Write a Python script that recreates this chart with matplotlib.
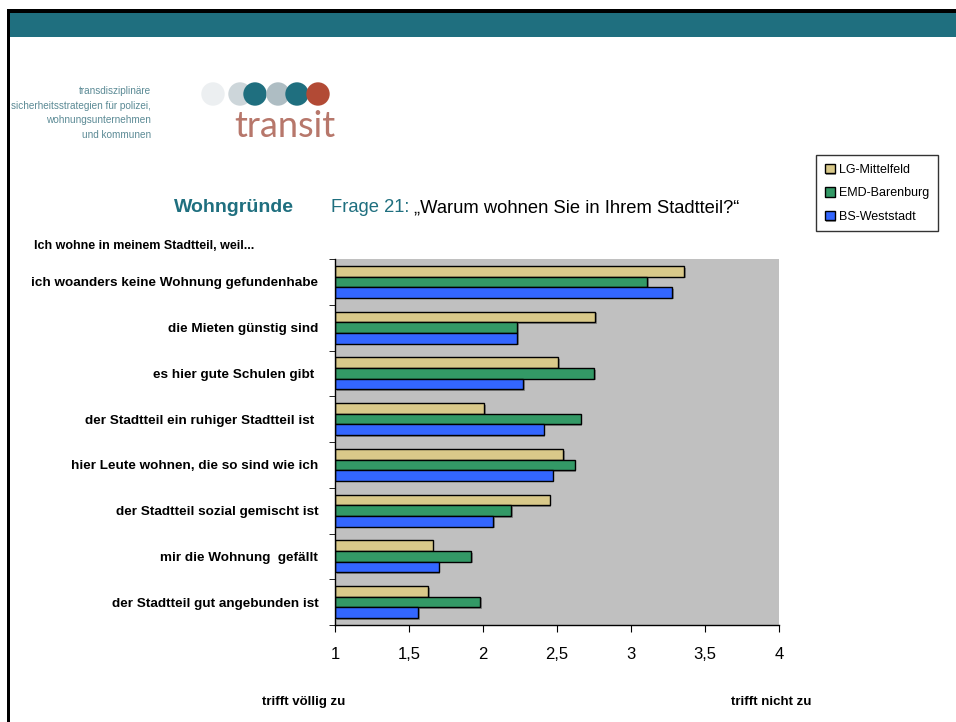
import matplotlib.pyplot as plt
import matplotlib.patheffects as pe
import numpy as np
from matplotlib.patches import Rectangle, Circle

# survey answers (1 = trifft völlig zu, 4 = trifft nicht zu)
categories = [
    'ich woanders keine Wohnung gefundenhabe',
    'die Mieten günstig sind',
    'es hier gute Schulen gibt ',
    'der Stadtteil ein ruhiger Stadtteil ist ',
    'hier Leute wohnen, die so sind wie ich',
    'der Stadtteil sozial gemischt ist',
    'mir die Wohnung  gefällt',
    'der Stadtteil gut angebunden ist',
]
lg_mittelfeld = [3.36, 2.76, 2.51, 2.01, 2.54, 2.45, 1.66, 1.63]
emd_barenburg = [3.11, 2.23, 2.75, 2.66, 2.62, 2.19, 1.92, 1.98]
bs_weststadt = [3.28, 2.23, 2.27, 2.41, 2.47, 2.07, 1.70, 1.56]
series_names = ['LG-Mittelfeld', 'EMD-Barenburg', 'BS-Weststadt']
xticks = [1, 1.5, 2, 2.5, 3, 3.5, 4]
xtick_labels = ['1', '1,5', '2', '2,5', '3', '3,5', '4']

colors = ['#d9c98a', '#339966', '#3366ff']
teal = '#1f6f7f'
sans = ['Liberation Sans', 'DejaVu Sans']

W, H = 956, 722
fig = plt.figure(figsize=(W / 100, H / 100), dpi=100)

# slide background in pixel coordinates
bg = fig.add_axes([0, 0, 1, 1])
bg.set_xlim(0, W)
bg.set_ylim(H, 0)
bg.axis('off')
bg.add_patch(Rectangle((7, 9), W, 4, color='black', lw=0))
bg.add_patch(Rectangle((7, 9), 3, H, color='black', lw=0))
bg.add_patch(Rectangle((10, 13), W, 24, color=teal, lw=0))

# logo
logo_lines = ['transdisziplinäre', 'sicherheitsstrategien für polizei,',
              'wohnungsunternehmen', 'und kommunen']
for i, line in enumerate(logo_lines):
    bg.text(151, 91 + i * 14.7, line, ha='right', va='center', fontsize=7.2,
            color='#5b8a95', family=sans)

circles = [(213, '#eceff1'), (240, '#cdd6da'), (255, teal), (278, '#aebdc3'),
           (297, teal), (318, '#b24a35')]
for cx, c in circles:
    bg.add_patch(Circle((cx, 94), 11.7, color=c, lw=0))
bg.text(285, 137, 'transit', ha='center', va='baseline', fontsize=26,
        color='#b7776b', family=['Lato', 'DejaVu Sans'])

# titles
bg.text(174, 208, 'Wohngründe', ha='left', va='center', fontsize=14,
        color=teal, weight='bold', family=sans)
t1 = bg.text(331, 208, 'Frage 21: ', ha='left', va='center', fontsize=13.2,
             color=teal, family=sans)
fig.canvas.draw()
bb = t1.get_window_extent()
x_after = bg.transData.inverted().transform((bb.x1, 0))[0]
bg.text(x_after, 208, '„Warum wohnen Sie in Ihrem Stadtteil?“', ha='left',
        va='center', fontsize=13.2, color='black', family=sans)

bg.text(34, 246, 'Ich wohne in meinem Stadtteil, weil...', ha='left',
        va='center', fontsize=9, weight='bold', family=sans)
bg.text(262, 702, 'trifft völlig zu', ha='left', va='center', fontsize=9.5,
        weight='bold', family=sans)
bg.text(731, 702, 'trifft nicht zu', ha='left', va='center', fontsize=9.5,
        weight='bold', family=sans)

# bar chart
ax = fig.add_axes([335 / W, (H - 625) / H, 444 / W, 366 / H])
ax.set_facecolor('#c0c0c0')
y = np.arange(len(categories))
h = 0.232
shadow = [pe.SimplePatchShadow(offset=(1.2, -1.2), shadow_rgbFace='#707070',
                               alpha=0.7), pe.Normal()]
for k, vals in enumerate([lg_mittelfeld, emd_barenburg, bs_weststadt]):
    vals = np.array(vals)
    bars = ax.barh(y + (k - 1) * h, vals - 1, left=1, height=h, color=colors[k],
                   edgecolor='black', linewidth=1, label=series_names[k])
    for b in bars:
        b.set_path_effects(shadow)

ax.set_xlim(1, 4)
ax.set_ylim(len(categories) - 0.5, -0.5)
ax.set_xticks(xticks)
ax.set_xticklabels(xtick_labels, fontsize=12, family=sans)
ax.set_yticks(y)
ax.set_yticklabels(categories, fontsize=9.7, weight='bold', family=sans)
ax.set_yticks(np.arange(-0.5, len(categories)), minor=True)
ax.tick_params(axis='y', which='major', length=0, pad=12)
ax.tick_params(axis='y', which='minor', length=4, direction='out')
ax.tick_params(axis='x', length=5, direction='out', pad=11)
for s in ['top', 'right']:
    ax.spines[s].set_visible(False)
ax.spines['left'].set_linewidth(1)
ax.spines['bottom'].set_linewidth(1)

leg = fig.legend(loc='upper left', bbox_to_anchor=(816 / W, 1 - 155 / H),
                 prop={'family': sans, 'size': 9}, frameon=True,
                 fancybox=False, edgecolor='black', handlelength=0.8,
                 handleheight=0.8, handletextpad=0.3, borderpad=0.7,
                 labelspacing=0.9, borderaxespad=0)
leg.get_frame().set_linewidth(1)

plt.savefig('out.png', dpi=100)
